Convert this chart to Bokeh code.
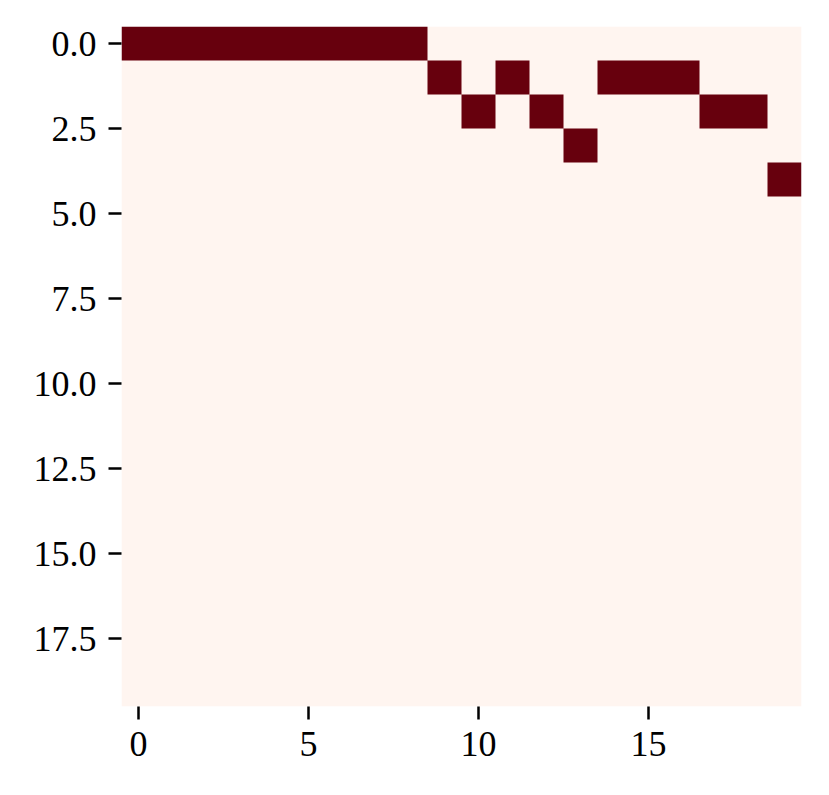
import numpy as np
from bokeh.plotting import figure
from bokeh.models import Range1d, FixedTicker, PrintfTickFormatter, LinearColorMapper
from bokeh.embed import file_html
from bokeh.resources import INLINE

# 20x20 binary matrix (rows top to bottom)
matrix = [
    [1, 1, 1, 1, 1, 1, 1, 1, 1, 0, 0, 0, 0, 0, 0, 0, 0, 0, 0, 0],
    [0, 0, 0, 0, 0, 0, 0, 0, 0, 1, 0, 1, 0, 0, 1, 1, 1, 0, 0, 0],
    [0, 0, 0, 0, 0, 0, 0, 0, 0, 0, 1, 0, 1, 0, 0, 0, 0, 1, 1, 0],
    [0, 0, 0, 0, 0, 0, 0, 0, 0, 0, 0, 0, 0, 1, 0, 0, 0, 0, 0, 0],
    [0, 0, 0, 0, 0, 0, 0, 0, 0, 0, 0, 0, 0, 0, 0, 0, 0, 0, 0, 1],
] + [[0] * 20 for _ in range(15)]

x_ticks = [0, 5, 10, 15]
y_ticks = [0, 2.5, 5, 7.5, 10, 12.5, 15, 17.5]
palette = ["#fff5f0", "#67000d"]

n = len(matrix)
img = np.array(matrix, dtype=float)

p = figure(width=821, height=776, output_backend="svg", toolbar_location=None,
           x_range=Range1d(-0.5, n - 0.5), y_range=Range1d(n - 0.5, -0.5),
           min_border_left=121, min_border_right=20, min_border_top=26, min_border_bottom=70)
mapper = LinearColorMapper(palette=palette, low=0, high=1)
p.image(image=[img], x=-0.5, y=-0.5, dw=n, dh=n, color_mapper=mapper)

p.grid.visible = False
p.outline_line_color = None
p.background_fill_color = "white"
p.xaxis.ticker = FixedTicker(ticks=x_ticks)
p.yaxis.ticker = FixedTicker(ticks=y_ticks)
p.yaxis.formatter = PrintfTickFormatter(format="%.1f")
for ax in (p.xaxis, p.yaxis):
    ax.axis_line_color = None
    ax.minor_tick_line_color = None
    ax.major_tick_line_color = "black"
    ax.major_tick_line_width = 2.5
    ax.major_tick_out = 13
    ax.major_tick_in = 0
    ax.major_label_text_font = "Liberation Serif"
    ax.major_label_text_font_size = "36px"
    ax.major_label_text_color = "black"
    ax.major_label_standoff = 12

open("out.html", "w").write(file_html(p, INLINE))
